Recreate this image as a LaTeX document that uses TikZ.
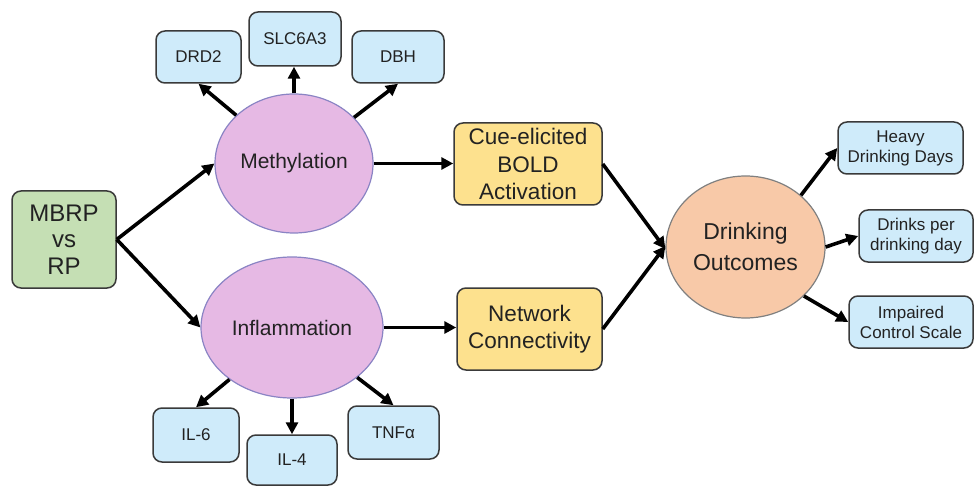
\documentclass[tikz,border=0pt]{standalone}
\usepackage{fontspec}
\setmainfont{Liberation Sans}
\usetikzlibrary{shapes.geometric,arrows.meta}
\definecolor{bluebox}{HTML}{CFEBFA}
\definecolor{pinkell}{HTML}{E6B9E4}
\definecolor{pinkedge}{HTML}{8A84C4}
\definecolor{yellowbox}{HTML}{FDE18E}
\definecolor{greenbox}{HTML}{C5DFB4}
\definecolor{peach}{HTML}{F8C9A8}
\definecolor{edgegray}{HTML}{3A3A3A}
\definecolor{txt}{HTML}{222222}
\tikzset{
  box/.style={draw=edgegray, line width=1.5pt, rounded corners=9pt, align=center, text=txt, inner sep=0pt},
  bluebox/.style={box, fill=bluebox, font=\fontsize{17}{20}\selectfont},
  yellowb/.style={box, fill=yellowbox, font=\fontsize{22.5}{27.5}\selectfont},
  greenb/.style={box, fill=greenbox, font=\fontsize{24}{26.5}\selectfont},
  pinkell/.style={ellipse, draw=pinkedge, line width=1.2pt, fill=pinkell, inner sep=0pt, text=txt, font=\fontsize{21}{25}\selectfont},
  peachell/.style={ellipse, draw=gray, line width=1.2pt, fill=peach, inner sep=0pt, align=center, text=txt, font=\fontsize{23}{30.5}\selectfont},
  arr/.style={line width=3.6pt, -{Triangle[length=12pt,width=12pt]}}
}
\begin{document}
\begin{tikzpicture}[x=1pt,y=-1pt]
\useasboundingbox[fill=white] (0,0) rectangle (976,486);
% nodes
\node[greenb, minimum width=104pt, minimum height=97pt] (mbrp) at (64,239.5) {MBRP\\vs\\RP};
\node[pinkell, minimum width=158pt, minimum height=139pt] (meth) at (294,163.5) {Methylation};
\node[pinkell, minimum width=182pt, minimum height=141pt] (infl) at (292,327.5) {Inflammation};
\node[bluebox, minimum width=85pt, minimum height=52pt] (drd2) at (198.5,57) {DRD2};
\node[bluebox, minimum width=92pt, minimum height=54pt] (slc) at (295,39) {SLC6A3};
\node[bluebox, minimum width=92pt, minimum height=52pt] (dbh) at (398,57) {DBH};
\node[bluebox, minimum width=86pt, minimum height=54pt] (il6) at (196,435) {IL-6};
\node[bluebox, minimum width=90pt, minimum height=50pt] (il4) at (292,460) {IL-4};
\node[bluebox, minimum width=91pt, minimum height=53pt] (tnf) at (393.5,432.5) {TNFα};
\node[yellowb, minimum width=148pt, minimum height=82pt] (cue) at (528,164) {Cue-elicited\\BOLD\\Activation};
\node[yellowb, minimum width=145pt, minimum height=82pt] (net) at (529.5,329) {Network\\Connectivity};
\node[peachell, minimum width=159pt, minimum height=142pt] (do) at (745.5,247) {Drinking\\Outcomes};
\node[bluebox, minimum width=125pt, minimum height=52pt] (heavy) at (900.5,148) {Heavy\\Drinking Days};
\node[bluebox, minimum width=114pt, minimum height=52pt] (drinks) at (916,236) {Drinks per\\drinking day};
\node[bluebox, minimum width=124pt, minimum height=52pt] (imp) at (911,322) {Impaired\\Control Scale};
% arrows
\draw[arr] (mbrp.east) -- (meth.west);
\draw[arr] (mbrp.east) -- (infl.west);
\draw[arr] (meth) -- (drd2.south);
\draw[arr] (meth.north) -- (meth.north |- slc.south);
\draw[arr] (meth) -- (dbh.south);
\draw[arr] (infl) -- (il6.north);
\draw[arr] (infl.south) -- (infl.south |- il4.north);
\draw[arr] (infl) -- (tnf.north);
\draw[arr] (meth.east) -- (meth.east -| cue.west);
\draw[arr] (infl.east) -- (infl.east -| net.west);
\draw[arr] (cue.east) -- ([yshift=-2pt]do.west);
\draw[arr] (net.east) -- ([yshift=1pt]do.west);
\draw[arr] (do.43) -- (heavy.west);
\draw[arr] (do.east) -- (drinks.west);
\draw[arr] (do.-40) -- (imp.west);
\end{tikzpicture}
\end{document}
